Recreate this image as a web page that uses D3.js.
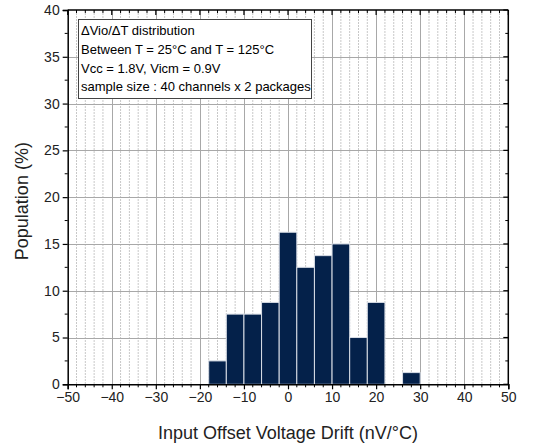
<!DOCTYPE html>
<html><head><meta charset="utf-8">
<script src="https://cdn.jsdelivr.net/npm/d3@7"></script>
<style>body{margin:0;background:#fff}svg{display:block}</style>
</head><body>
<svg id="c" width="551" height="448"></svg>
<script>
const binStarts = [-18,-14,-10,-6,-2,2,6,10,14,18,22,26];
const binWidth = 4;
const population = [2.5,7.5,7.5,8.75,16.25,12.5,13.75,15,5,8.75,0,1.25];
const xTicks = [-50,-40,-30,-20,-10,0,10,20,30,40,50];
const yTicks = [0,5,10,15,20,25,30,35,40];
const legendLines = ["\u0394Vio/\u0394T distribution","Between T = 25\u00B0C and T = 125\u00B0C","Vcc = 1.8V, Vicm = 0.9V","sample size : 40 channels x 2 packages"];

const svg = d3.select("#c");
const font = "Liberation Sans, Arial, sans-serif";
const L=67.7,R=508.3,T=10,B=384.3;
const x = d3.scaleLinear().domain([-50,50]).range([L,R]);
const y = d3.scaleLinear().domain([0,40]).range([B,T]);

// minor vertical grid
const minorX = d3.range(-48,50,2).filter(v=>v%10!==0);
svg.append("g").selectAll("line").data(minorX).join("line")
  .attr("x1",d=>x(d)).attr("x2",d=>x(d)).attr("y1",T).attr("y2",B)
  .attr("stroke","#c8c8c8").attr("stroke-width",1).attr("stroke-dasharray","2,1");
// major grid
svg.append("g").selectAll("line").data(xTicks.slice(1,-1)).join("line")
  .attr("x1",d=>Math.round(x(d))+0.5).attr("x2",d=>Math.round(x(d))+0.5).attr("y1",T).attr("y2",B)
  .attr("stroke","#a8a8a8").attr("stroke-width",1);
svg.append("g").selectAll("line").data(yTicks.slice(1,-1)).join("line")
  .attr("y1",d=>Math.round(y(d))+0.5).attr("y2",d=>Math.round(y(d))+0.5).attr("x1",L).attr("x2",R)
  .attr("stroke","#a8a8a8").attr("stroke-width",1);

// bars
svg.append("g").selectAll("rect").data(binStarts.map((s,i)=>({s,v:population[i]})).filter(d=>d.v>0)).join("rect")
  .attr("x",d=>x(d.s)).attr("width",d=>x(d.s+binWidth)-x(d.s))
  .attr("y",d=>y(d.v)).attr("height",d=>y(0)-y(d.v))
  .attr("fill","#04214a").attr("stroke","#d8dde6").attr("stroke-width",1);

// frame
svg.append("line").attr("x1",L).attr("x2",R).attr("y1",T).attr("y2",T).attr("stroke","#000").attr("stroke-width",1.5);
svg.append("line").attr("x1",R).attr("x2",R).attr("y1",T).attr("y2",B).attr("stroke","#000").attr("stroke-width",1.5);

// axes
const xAxis = svg.append("g").attr("transform",`translate(0,${B})`)
  .call(d3.axisBottom(x).tickValues(xTicks).tickSize(5).tickPadding(3).tickFormat(d=>d<0?"\u2212"+Math.abs(d):d));
const yAxis = svg.append("g").attr("transform",`translate(${L},0)`)
  .call(d3.axisLeft(y).tickValues(yTicks).tickSize(5).tickPadding(3));
[xAxis,yAxis].forEach(a=>{
  a.select(".domain").attr("stroke","#000").attr("stroke-width",1.5);
  a.selectAll("text").attr("font-family",font).attr("font-size",14).attr("fill","#222");
  a.selectAll(".tick line").attr("stroke","#000").attr("stroke-width",1.2);
});
// minor ticks bottom and top
svg.append("g").selectAll("line").data(minorX).join("line")
  .attr("x1",d=>x(d)).attr("x2",d=>x(d)).attr("y1",B).attr("y2",B+3).attr("stroke","#000");
svg.append("g").selectAll("line").data(minorX).join("line")
  .attr("x1",d=>x(d)).attr("x2",d=>x(d)).attr("y1",T).attr("y2",T+3).attr("stroke","#000");
svg.append("g").selectAll("line").data(xTicks).join("line")
  .attr("x1",d=>x(d)).attr("x2",d=>x(d)).attr("y1",T).attr("y2",T+5).attr("stroke","#000").attr("stroke-width",1.2);
// y minor ticks
const minorY = d3.range(2.5,40,5);
svg.append("g").selectAll("line").data(minorY).join("line")
  .attr("y1",d=>y(d)).attr("y2",d=>y(d)).attr("x1",L).attr("x2",L-3).attr("stroke","#000");
svg.append("g").selectAll("line").data(minorY).join("line")
  .attr("y1",d=>y(d)).attr("y2",d=>y(d)).attr("x1",R).attr("x2",R-3).attr("stroke","#000");
svg.append("g").selectAll("line").data(yTicks).join("line")
  .attr("y1",d=>y(d)).attr("y2",d=>y(d)).attr("x1",R).attr("x2",R-5).attr("stroke","#000").attr("stroke-width",1.2);

// titles
svg.append("text").attr("x",(L+R)/2).attr("y",439).attr("text-anchor","middle")
  .attr("font-family",font).attr("font-size",18).attr("fill","#222").text("Input Offset Voltage Drift (nV/\u00B0C)");
svg.append("text").attr("transform",`translate(28,${(T+B)/2+4}) rotate(-90)`).attr("text-anchor","middle")
  .attr("font-family",font).attr("font-size",18).attr("fill","#222").text("Population (%)");

// legend
const lg = svg.append("g");
lg.append("rect").attr("x",78.5).attr("y",19.5).attr("width",233).attr("height",79)
  .attr("fill","#fff").attr("stroke","#444").attr("stroke-width",1);
lg.selectAll("text").data(legendLines).join("text")
  .attr("x",81).attr("y",(d,i)=>35+i*18.8)
  .attr("font-family",font).attr("font-size",13).attr("fill","#000").text(d=>d);
</script>
</body></html>
